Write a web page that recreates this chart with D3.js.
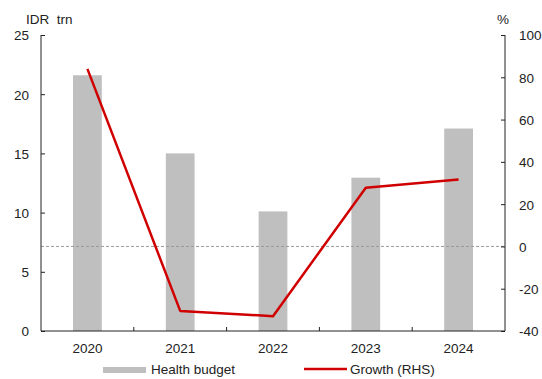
<!DOCTYPE html>
<html>
<head>
<meta charset="utf-8">
<script src="https://cdn.jsdelivr.net/npm/d3@7"></script>
<style>
  html, body { margin: 0; padding: 0; background: #fff; }
  svg text { font-family: "Liberation Sans", Arial, sans-serif; fill: #222; }
</style>
</head>
<body>
<svg id="chart" width="542" height="379"></svg>
<script>
// Health budget (IDR trn) and year-on-year growth (%)
const years = ["2020", "2021", "2022", "2023", "2024"];
const healthBudget = [21.6, 15.0, 10.1, 12.95, 17.1];
const growth = [84.0, -30.5, -33.0, 27.8, 31.7];
const leftTicks = [0, 5, 10, 15, 20, 25];
const rightTicks = [-40, -20, 0, 20, 40, 60, 80, 100];

const svg = d3.select("#chart");
const margin = { left: 41, right: 37, top: 35, bottom: 48 };
const W = 542, H = 379;
const x0 = margin.left, x1 = W - margin.right;
const y0 = H - margin.bottom, y1 = margin.top;

const x = d3.scaleBand().domain(years).range([x0, x1]).paddingInner(0).paddingOuter(0);
const yL = d3.scaleLinear().domain([0, 25]).range([y0, y1]);
const yR = d3.scaleLinear().domain([-40, 100]).range([y0, y1]);

const barW = x.bandwidth() * 0.31;
const plain = (d) => String(d); // hyphen-minus for negatives

// bars
svg.append("g").selectAll("rect").data(years).join("rect")
  .attr("x", (d) => x(d) + x.bandwidth() / 2 - barW / 2)
  .attr("y", (d, i) => yL(healthBudget[i]))
  .attr("width", barW)
  .attr("height", (d, i) => yL(0) - yL(healthBudget[i]))
  .attr("fill", "#bfbfbf");

// zero line of the growth axis
svg.append("line")
  .attr("x1", x0).attr("x2", x1)
  .attr("y1", yR(0)).attr("y2", yR(0))
  .attr("stroke", "#9a9a9a").attr("stroke-width", 1)
  .attr("stroke-dasharray", "3,2");

// growth line
const line = d3.line()
  .x((d, i) => x(years[i]) + x.bandwidth() / 2)
  .y((d) => yR(d));
svg.append("path").datum(growth)
  .attr("d", line)
  .attr("fill", "none")
  .attr("stroke", "#d00000")
  .attr("stroke-width", 2.5)
  .attr("stroke-linejoin", "round");

// left axis
const axL = svg.append("g").attr("transform", `translate(${x0},0)`)
  .call(d3.axisRight(yL).tickValues(leftTicks).tickSize(4).tickFormat(plain));
axL.select(".domain").attr("stroke", "#222").attr("d", `M0,${y1}V${y0}`);
axL.selectAll(".tick line").attr("stroke", "#222");
axL.selectAll(".tick text").attr("x", -12).attr("text-anchor", "end")
  .style("font-size", "13.5px").attr("dy", "0.36em");

// right axis
const axR = svg.append("g").attr("transform", `translate(${x1},0)`)
  .call(d3.axisLeft(yR).tickValues(rightTicks).tickSize(4).tickFormat(plain));
axR.select(".domain").attr("stroke", "#222").attr("d", `M0,${y1}V${y0}`);
axR.selectAll(".tick line").attr("stroke", "#222");
axR.selectAll(".tick text").attr("x", 14).attr("text-anchor", "start")
  .style("font-size", "13.5px").attr("dy", "0.36em");

// bottom axis: ticks between categories, labels centred on each band
const axB = svg.append("g").attr("transform", `translate(0,${y0})`);
axB.append("line").attr("x1", x0).attr("x2", x1).attr("y1", 0).attr("y2", 0)
  .attr("stroke", "#222");
axB.selectAll(".sep").data(years.slice(1)).join("line")
  .attr("class", "sep")
  .attr("x1", (d) => x(d)).attr("x2", (d) => x(d))
  .attr("y1", 0).attr("y2", -4)
  .attr("stroke", "#222");
axB.selectAll(".lbl").data(years).join("text")
  .attr("class", "lbl")
  .attr("x", (d) => x(d) + x.bandwidth() / 2)
  .attr("y", 22)
  .attr("text-anchor", "middle")
  .style("font-size", "13.5px")
  .text((d) => d);

// axis units
svg.append("text").attr("x", 26).attr("y", 24).style("font-size", "13.5px")
  .style("white-space", "pre").text("IDR  trn");
svg.append("text").attr("x", 497).attr("y", 24).style("font-size", "13.5px").text("%");

// legend
const lg = svg.append("g");
lg.append("rect").attr("x", 103).attr("y", 367).attr("width", 43).attr("height", 6).attr("fill", "#bfbfbf");
lg.append("text").attr("x", 151).attr("y", 374).style("font-size", "13.5px").text("Health budget");
lg.append("line").attr("x1", 304).attr("x2", 347).attr("y1", 369).attr("y2", 369)
  .attr("stroke", "#d00000").attr("stroke-width", 2.5);
lg.append("text").attr("x", 350).attr("y", 374).style("font-size", "13.5px").text("Growth (RHS)");
</script>
</body>
</html>
